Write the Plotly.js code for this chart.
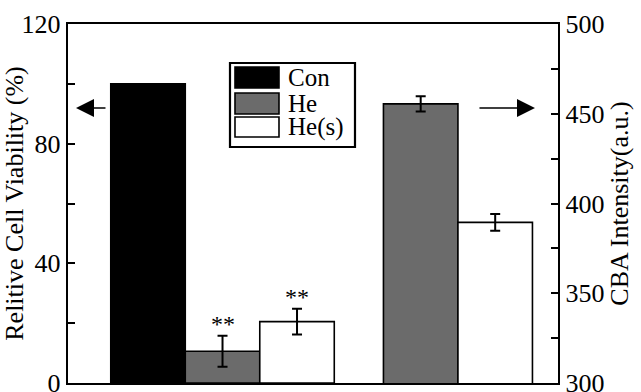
<!DOCTYPE html>
<html><head><meta charset="utf-8">
<script src="https://cdn.plot.ly/plotly-3.0.1.min.js"></script>
<style>body{margin:0;padding:0;background:#fff}#chart{width:641px;height:392px}</style>
</head><body><div id="chart"></div>
<script>
// ---- data ----
const seriesNames = ['Con', 'He', 'He(s)'];
const viabilityValues = [100, 10.6, 20.5];      // Relitive Cell Viability (%)
const viabilityErrors = [0, 5.2, 4.3];
const cbaSeries = ['He', 'He(s)'];
const cbaValues = [455.5, 389.5];               // CBA Intensity (a.u.)
const cbaErrors = [4.3, 4.7];
const significance = ['', '**', '**'];
const leftTicks = [0, 20, 40, 60, 80, 100, 120];
const leftTickLabels = ['0', '', '40', '', '80', '', '120'];
const rightTicks = [300, 325, 350, 375, 400, 425, 450, 475, 500];
const rightTickLabels = ['300', '', '350', '', '400', '', '450', '', '500'];

// ---- styles ----
const FONT = '"Liberation Serif", "Times New Roman", Times, serif';
const fills = {'Con': '#000000', 'He': '#6b6b6b', 'He(s)': '#ffffff'};
const leftPos = [1, 2, 3];
const rightPos = [4.66, 5.66];

const traces = [];
seriesNames.forEach((n, i) => {
  traces.push({
    type: 'bar', name: n, x: [leftPos[i]], y: [viabilityValues[i]], width: 1,
    marker: {color: fills[n], line: {color: '#000', width: 1.6}},
    error_y: {type: 'data', array: [viabilityErrors[i]], visible: viabilityErrors[i] > 0,
              color: '#000', thickness: 2, width: 5},
    xaxis: 'x', yaxis: 'y', showlegend: false, hoverinfo: 'skip'
  });
});
cbaSeries.forEach((n, i) => {
  traces.push({
    type: 'bar', name: n, x: [rightPos[i]], y: [cbaValues[i]], base: 0, width: 1,
    marker: {color: fills[n], line: {color: '#000', width: 1.6}},
    error_y: {type: 'data', array: [cbaErrors[i]], color: '#000', thickness: 2, width: 5},
    xaxis: 'x', yaxis: 'y2', showlegend: false, hoverinfo: 'skip'
  });
});

const annotations = [];
seriesNames.forEach((n, i) => {
  if (significance[i]) {
    annotations.push({x: leftPos[i], y: viabilityValues[i] + viabilityErrors[i], xref: 'x', yref: 'y',
      text: significance[i], showarrow: false, yanchor: 'bottom', yshift: -3,
      font: {family: FONT, size: 24, color: '#000'}});
  }
});
// direction arrows
annotations.push({x: 0.0163, y: 0.766, xref: 'paper', yref: 'paper', text: '', showarrow: true,
  ax: 31, ay: 0, arrowhead: 2, arrowsize: 2.4, arrowwidth: 1.5, arrowcolor: '#000'});
annotations.push({x: 0.953, y: 0.766, xref: 'paper', yref: 'paper', text: '', showarrow: true,
  ax: -57, ay: 0, arrowhead: 2, arrowsize: 2.4, arrowwidth: 1.5, arrowcolor: '#000'});

// manual legend (large swatches)
const shapes = [{type: 'rect', xref: 'paper', yref: 'paper', x0: 0.3306, x1: 0.5857, y0: 0.6574, y1: 0.8914,
  line: {color: '#000', width: 2.2}, fillcolor: '#fff'}];
const swY = [[0.8217, 0.8802], [0.7493, 0.8078], [0.6852, 0.7409]];
seriesNames.forEach((n, i) => {
  shapes.push({type: 'rect', xref: 'paper', yref: 'paper', x0: 0.3408, x1: 0.4306, y0: swY[i][0], y1: swY[i][1],
    line: {color: '#000', width: 1.6}, fillcolor: fills[n]});
  annotations.push({x: 0.445, y: (swY[i][0] + swY[i][1]) / 2, xref: 'paper', yref: 'paper', text: n,
    showarrow: false, xanchor: 'left', yanchor: 'middle', font: {family: FONT, size: 25, color: '#000'}});
});

const layout = {
  width: 641, height: 392,
  margin: {l: 68, r: 83, t: 24, b: 9},
  paper_bgcolor: '#fff', plot_bgcolor: '#fff',
  font: {family: FONT, color: '#000', size: 25},
  barmode: 'overlay',
  xaxis: {range: [-0.074, 6.503], showticklabels: false, ticks: '', showgrid: false, zeroline: false,
          showline: true, linecolor: '#000', linewidth: 2.4, mirror: true, fixedrange: true, automargin: false},
  yaxis: {range: [0, 120], tickvals: leftTicks, ticktext: leftTickLabels, ticks: 'inside', ticklen: 7,
          tickwidth: 2, tickcolor: '#000', showgrid: false, zeroline: false, showline: true,
          linecolor: '#000', linewidth: 2.4, tickfont: {family: FONT, size: 26}, ticklabeloverflow: 'allow',
          automargin: false,
          title: {text: 'Relitive Cell Viability (%)', font: {family: FONT, size: 26}, standoff: 1}},
  yaxis2: {range: [300, 500], overlaying: 'y', side: 'right', tickvals: rightTicks, ticktext: rightTickLabels,
           ticks: 'inside', ticklen: 7, tickwidth: 2, tickcolor: '#000', showgrid: false, zeroline: false,
           showline: true, linecolor: '#000', linewidth: 2.4, tickfont: {family: FONT, size: 26},
           ticklabeloverflow: 'allow', automargin: false,
           title: {text: 'CBA Intensity(a.u.)', font: {family: FONT, size: 26}, standoff: 4}},
  shapes: shapes,
  annotations: annotations,
  showlegend: false
};
Plotly.newPlot('chart', traces, layout, {staticPlot: true, displayModeBar: false});
</script></body></html>
